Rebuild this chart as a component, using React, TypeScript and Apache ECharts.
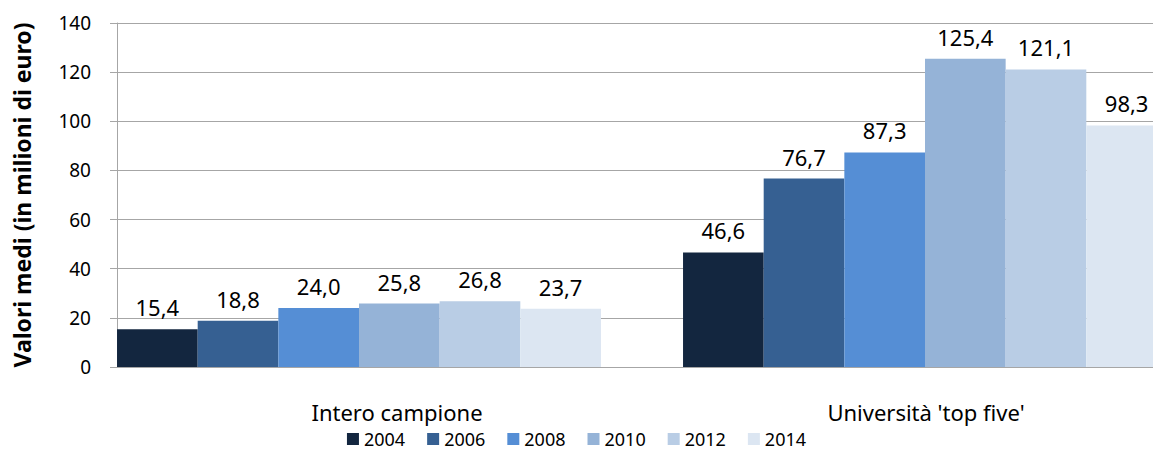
import React, { useEffect, useRef } from "react";
import * as echarts from "echarts";

const categories = ["Intero campione", "Università 'top five'"];
const years = ["2004", "2006", "2008", "2010", "2012", "2014"];
const values2004 = [15.4, 46.6];
const values2006 = [18.8, 76.7];
const values2008 = [24.0, 87.3];
const values2010 = [25.8, 125.4];
const values2012 = [26.8, 121.1];
const values2014 = [23.7, 98.3];
const colors = ["#13263f", "#366092", "#558ed5", "#95b3d7", "#b9cde5", "#dce6f2"];
const yTicks = [0, 20, 40, 60, 80, 100, 120, 140];

const FONT = "Noto Sans";

export default function App() {
  const ref = useRef<HTMLDivElement>(null);
  useEffect(() => {
    if (!ref.current) return;
    const chart = echarts.init(ref.current, null, { renderer: "svg" });
    const seriesValues = [values2004, values2006, values2008, values2010, values2012, values2014];
    const top = 23;
    const bottom = 452 - 367;
    chart.setOption({
      animation: false,
      color: colors,
      textStyle: { fontFamily: FONT },
      grid: [
        { left: 117, right: 0, top, bottom, containLabel: false, outerBoundsMode: "none" },
        { left: 76, right: -55, top, bottom, containLabel: false, outerBoundsMode: "none" },
      ],
      xAxis: [
        {
          gridIndex: 0,
          type: "category",
          data: categories,
          axisLine: { show: true, lineStyle: { color: "#a6a6a6", width: 1 } },
          axisTick: { show: false },
          axisLabel: { show: false },
          splitLine: { show: false },
        },
        {
          gridIndex: 1,
          type: "category",
          data: categories,
          axisLine: { show: false },
          axisTick: { show: false },
          axisLabel: {
            show: true,
            margin: 34,
            color: "#000",
            fontSize: 22,
            fontFamily: FONT,
            formatter: (v: string, i: number) => (i === 0 ? "{a|" + v + "}" : "{b|" + v + "}"),
            rich: {
              a: { fontSize: 22, fontFamily: FONT, color: "#000", padding: [0, 0, 0, 76] },
              b: { fontSize: 22, fontFamily: FONT, color: "#000", padding: [0, 0, 0, 2] },
            },
          },
        },
      ],
      yAxis: [
        {
          gridIndex: 0,
          type: "value",
          min: 0,
          max: 140,
          interval: 20,
          name: "Valori medi (in milioni di euro)",
          nameLocation: "middle",
          nameGap: 84,
          nameRotate: 90,
          nameTextStyle: { fontSize: 23, fontWeight: "bold", color: "#000", fontFamily: FONT },
          axisLine: { show: true, lineStyle: { color: "#a6a6a6", width: 1 } },
          axisTick: { show: true, inside: false, length: 7, lineStyle: { color: "#a6a6a6" } },
          axisLabel: {
            margin: 26,
            color: "#000",
            fontSize: 19,
            fontFamily: FONT,
            formatter: (v: number) => (yTicks.includes(v) ? String(v) : ""),
          },
          splitLine: { show: true, lineStyle: { color: "#a6a6a6", width: 1 } },
        },
        {
          gridIndex: 1,
          type: "value",
          min: 0,
          max: 140,
          interval: 20,
          axisLine: { show: false },
          axisTick: { show: false },
          axisLabel: { show: false },
          splitLine: { show: false },
        },
      ],
      legend: {
        top: 430,
        left: "center",
        padding: 0,
        itemWidth: 12,
        itemHeight: 12,
        itemGap: 22,
        icon: "rect",
        textStyle: { fontSize: 18, lineHeight: 18, color: "#000", fontFamily: FONT },
        data: years,
      },
      series: years.map((y, i) => ({
        name: y,
        type: "bar",
        xAxisIndex: 1,
        yAxisIndex: 1,
        data: seriesValues[i],
        barGap: "0%",
        barCategoryGap: "14.5%",
        itemStyle: { color: colors[i] },
        label: {
          show: true,
          position: "top",
          distance: 11,
          color: "#000",
          fontSize: 22,
          fontFamily: FONT,
          formatter: (p: any) => p.value.toFixed(1).replace(".", ","),
        },
      })),
    });
    return () => chart.dispose();
  }, []);
  return (
    <div
      ref={ref}
      style={{ position: "absolute", left: 0, top: 0, width: 1153, height: 452, overflow: "hidden" }}
    />
  );
}
